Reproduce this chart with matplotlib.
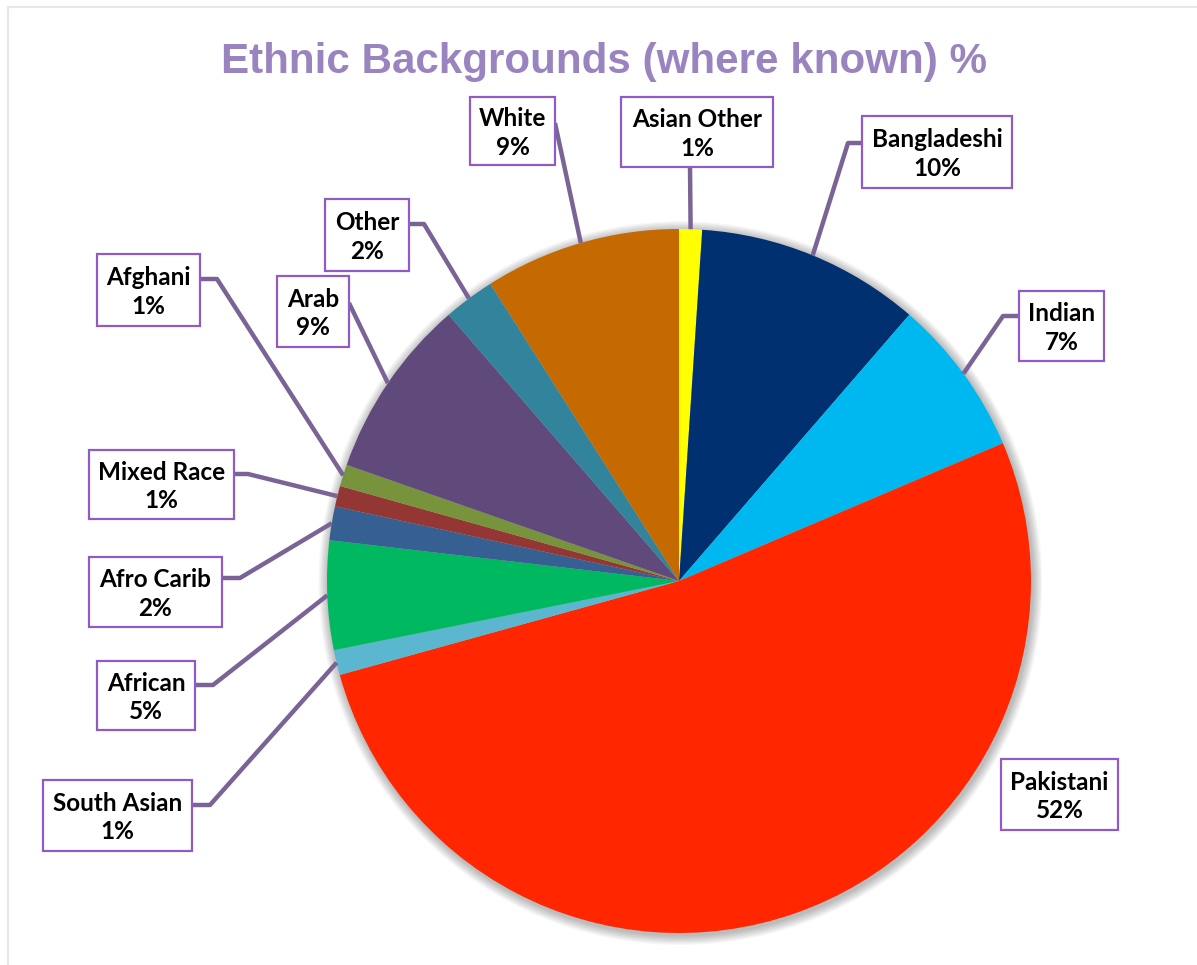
# Ethnic backgrounds pie chart
import numpy as np
import matplotlib.pyplot as plt
from matplotlib.patches import Rectangle, Circle

# Data (clockwise from 12 o'clock)
groups = ["Asian Other", "Bangladeshi", "Indian", "Pakistani", "South Asian", "African",
          "Afro Carib", "Mixed Race", "Afghani", "Arab", "Other", "White"]
shares = [1.05, 10.3, 7.25, 52.1, 1.15, 5.0, 1.55, 0.95, 1.0, 8.3, 2.35, 9.0]
pct_text = ["1%", "10%", "7%", "52%", "1%", "5%", "2%", "1%", "1%", "9%", "2%", "9%"]
colors = ["#FFFF00", "#003070", "#00B8F0", "#FF2600", "#5BB6D0", "#00B860",
          "#366092", "#943634", "#77933C", "#604A7B", "#31849B", "#C46A00"]

# label box layout in pixels (left, top, right, bottom)
boxes = [(621, 97, 773, 167), (862, 116, 1012, 188), (1019, 291, 1104, 361),
         (1001, 759, 1118, 830), (43, 780, 192, 851), (97, 661, 195, 730),
         (89, 557, 222, 627), (89, 450, 234, 519), (97, 254, 200, 326),
         (277, 276, 349, 347), (325, 199, 409, 271), (470, 97, 555, 165)]
# leader start (on box) and elbow points, None = no leader / no elbow
leader_start = [(690, 167), (862, 143), (1019, 316), None, (192, 805), (195, 685),
                (222, 578), (234, 474), (200, 279), (349, 303), (409, 224), (555, 123)]
leader_elbow = [None, (848, 143), (1003, 316), None, (210, 805), (213, 685),
                (240, 578), (248, 474), (217, 279), None, (424, 224), None]

W, H = 1197, 965
CX, CY, R = 679, 581, 352  # pie centre and radius in pixels


def px(x, y):
    # pixel position -> data coords (pie centre at 0,0, radius 1)
    return (x - CX) / R, (CY - y) / R


fig = plt.figure(figsize=(W / 100, H / 100), dpi=100)
ax = fig.add_axes([0, 0, 1, 1])

# soft shadow round the pie
for i in range(8):
    ax.add_patch(Circle((0.004, -0.006), 1.0 + 0.0035 * (i + 1), color="#000000",
                        alpha=0.035, lw=0, zorder=1))

wedges, _ = ax.pie(shares, colors=colors, startangle=90, counterclock=False,
                   radius=1, center=(0, 0), frame=True,
                   wedgeprops=dict(linewidth=0, zorder=2))
ax.set_xlim(-CX / R, (W - CX) / R)
ax.set_ylim(-(H - CY) / R, CY / R)
ax.axis("off")

line_col = "#7A6496"
for w, name, pct, box, s, e in zip(wedges, groups, pct_text, boxes, leader_start, leader_elbow):
    l, t, r, b = box
    x0, y0 = px(l, b)
    x1, y1 = px(r, t)
    ax.add_patch(Rectangle((x0, y0), x1 - x0, y1 - y0, facecolor="white",
                           edgecolor="#8E5CC4", lw=1.6, zorder=5))
    ax.text((x0 + x1) / 2, (y0 + y1) / 2 - 0.006, f"{name}\n{pct}", ha="center", va="center",
            fontsize=17.5, fontweight="bold", family="Lato", linespacing=1.3, zorder=6)
    if s is None:
        continue
    mid = np.deg2rad((w.theta1 + w.theta2) / 2)
    pts = [px(*s)]
    if e is not None:
        pts.append(px(*e))
    pts.append((np.cos(mid), np.sin(mid)))
    xs, ys = zip(*pts)
    ax.plot(xs, ys, color=line_col, lw=3.2, solid_capstyle="butt", zorder=4)

# title
fig.text(604 / W, 1 - 73 / H, "Ethnic Backgrounds (where known) %", ha="center",
         va="baseline", fontsize=30.3, fontweight="bold", family="Liberation Sans",
         color="#9A84BF")

# faint outer frame (top and left)
fig.add_artist(plt.Line2D([8 / W, 8 / W], [1 - 7 / H, 0], color="#EAE4EE", lw=1.5))
fig.add_artist(plt.Line2D([8 / W, 1], [1 - 7 / H, 1 - 7 / H], color="#EAE4EE", lw=1.5))

fig.savefig("out.png", dpi=100)
